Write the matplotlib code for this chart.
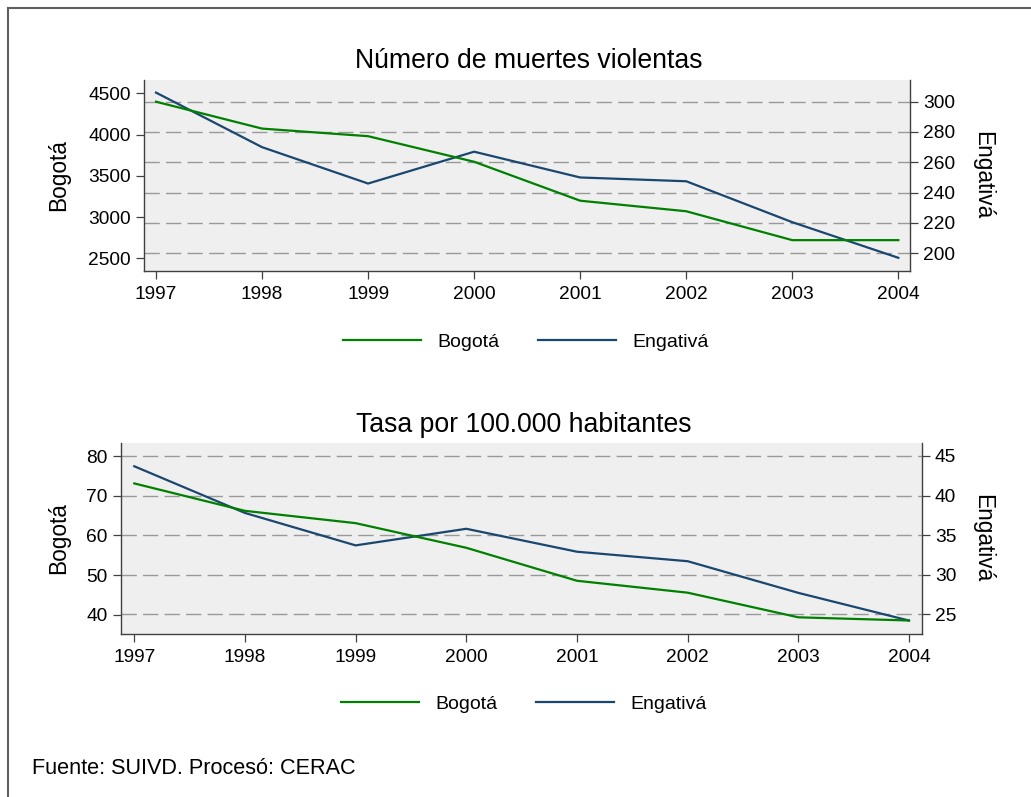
import matplotlib
matplotlib.use("Agg")
import matplotlib.pyplot as plt
from matplotlib.lines import Line2D

plt.rcParams['font.family'] = ['Liberation Sans', 'DejaVu Sans']

years = [1997, 1998, 1999, 2000, 2001, 2002, 2003, 2004]

# Número de muertes violentas
bogota_muertes = [4398, 4072, 3980, 3670, 3198, 3070, 2720, 2720]
engativa_muertes = [306, 270, 246, 267, 250, 247.5, 220.5, 197]

# Tasa por 100.000 habitantes
bogota_tasa = [73.1, 66.2, 63.1, 56.9, 48.6, 45.6, 39.4, 38.6]
engativa_tasa = [43.7, 37.8, 33.7, 35.8, 32.9, 31.7, 27.7, 24.2]

title_top = "Número de muertes violentas"
title_bot = "Tasa por 100.000 habitantes"
left_label = "Bogotá"
right_label = "Engativá"
footer = "Fuente: SUIVD. Procesó: CERAC"

GREEN = '#008000'
NAVY = '#1a476f'
BG = '#efefef'
GRID = '#999999'
SPINE = '#404040'

W, H = 1031, 797
fig = plt.figure(figsize=(W / 100, H / 100), dpi=100)


def fx(px):
    return px / W


def fy(py):
    return 1 - py / H


def make_panel(box, left_vals, right_vals, lticks, rticks, llim, rlim, xlim,
               title, title_pos, lab_y, leg_pos):
    x0, y0, x1, y1 = box
    ax = fig.add_axes([fx(x0), fy(y1), fx(x1) - fx(x0), fy(y0) - fy(y1)])
    ax2 = ax.twinx()
    ax.set_zorder(ax2.get_zorder() + 1)
    ax.patch.set_visible(False)
    ax2.patch.set_facecolor(BG)
    ax2.patch.set_visible(True)

    l1, = ax.plot(years, left_vals, color=GREEN, lw=1.6, solid_joinstyle='round')
    l2, = ax2.plot(years, right_vals, color=NAVY, lw=1.6, solid_joinstyle='round')

    ax.set_xlim(*xlim)
    ax.set_ylim(*llim)
    ax2.set_ylim(*rlim)
    ax.set_xticks(years)
    ax.set_xticklabels([str(y) for y in years])
    ax.set_yticks(lticks)
    ax2.set_yticks(rticks)

    ax2.grid(axis='y', color=GRID, lw=1.0, linestyle=(0, (11, 4.5)))
    ax2.set_axisbelow(True)

    for a in (ax, ax2):
        a.tick_params(labelsize=13.8, length=6, width=0.9, color=SPINE, pad=3.5)
        for s in a.spines.values():
            s.set_color(SPINE)
            s.set_linewidth(1.0)
    ax.tick_params(axis='x', pad=5)
    ax.spines['top'].set_visible(False)
    ax.spines['right'].set_visible(False)
    ax2.spines['top'].set_visible(False)
    ax2.spines['left'].set_visible(False)
    ax2.spines['bottom'].set_visible(False)

    fig.text(fx(title_pos[0]), fy(title_pos[1]), title, fontsize=19.2,
             ha='center', va='center')
    fig.text(fx(59), fy(lab_y), left_label, fontsize=16.3, rotation=90,
             ha='center', va='center')
    fig.text(fx(983), fy(lab_y), right_label, fontsize=16.3, rotation=270,
             ha='center', va='center')

    fig.legend([l1, l2], [left_label, right_label], loc='center',
               bbox_to_anchor=(fx(leg_pos[0]), fy(leg_pos[1])), ncol=2,
               frameon=False, fontsize=14, handlelength=4.0,
               handletextpad=0.85, columnspacing=2.0)
    return ax, ax2


make_panel((144, 80, 910, 271), bogota_muertes, engativa_muertes,
           [2500, 3000, 3500, 4000, 4500], [200, 220, 240, 260, 280, 300],
           (2346, 4661), (188.3, 314.3), (1996.887, 2004.11),
           title_top, (529, 61.5), 175.5, (526, 341.7))

make_panel((121, 442.7, 921.7, 634), bogota_tasa, engativa_tasa,
           [40, 50, 60, 70, 80], [25, 30, 35, 40, 45],
           (35.2, 83.35), (22.5, 46.68), (1996.88, 2004.115),
           title_bot, (524, 425), 538, (524, 704))

fig.text(fx(32), fy(768), footer, fontsize=15.6, ha='left', va='center')

# outer frame (left and top edges)
fig.add_artist(Line2D([fx(7.5), fx(7.5)], [0, fy(7.5)], color='#606060', lw=1.5,
                      transform=fig.transFigure))
fig.add_artist(Line2D([fx(7.5), 1], [fy(7.5), fy(7.5)], color='#606060', lw=1.5,
                      transform=fig.transFigure))

fig.savefig('out.png', dpi=100, facecolor='white')
